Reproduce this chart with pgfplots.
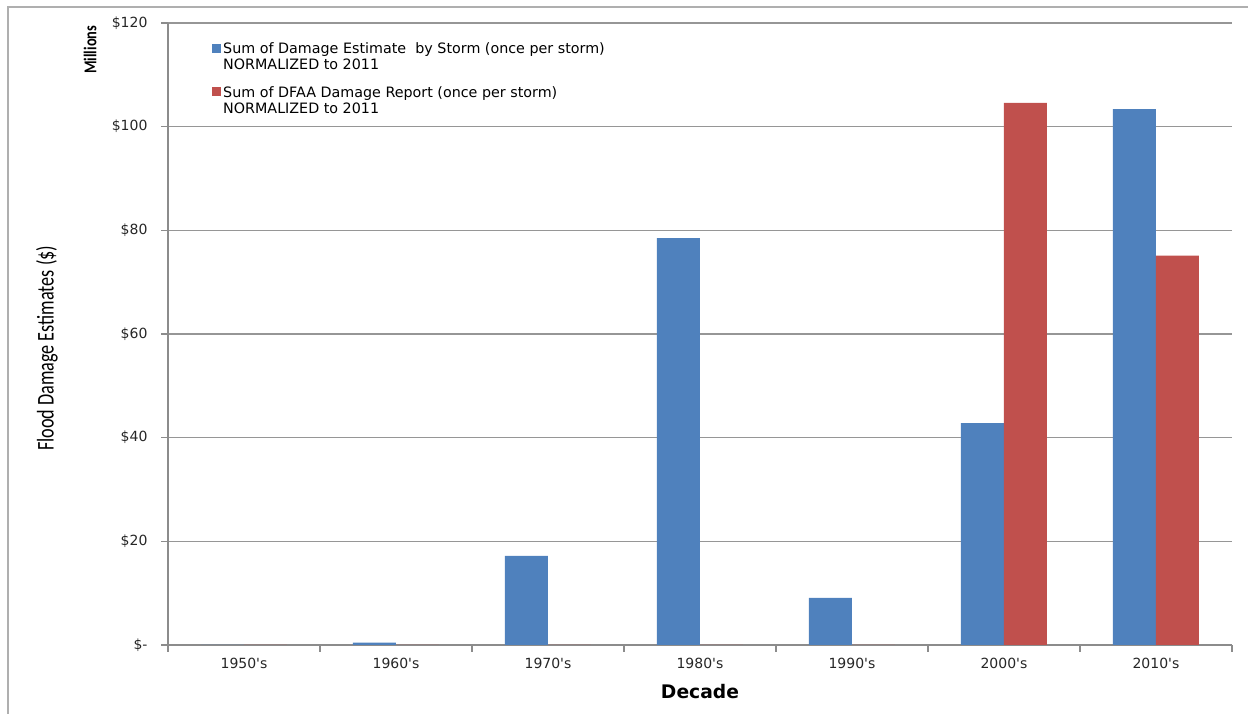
\documentclass[border=0pt]{standalone}
\usepackage{graphicx}
\usepackage{pgfplots}
\pgfplotsset{compat=1.18}
\usepackage{fontspec}
\setmainfont{DejaVu Sans}
\newfontfamily\calibri{Carlito}

\definecolor{stormblue}{RGB}{79,129,189}
\definecolor{dfaared}{RGB}{192,80,77}
\definecolor{axisgray}{RGB}{140,140,140}
\definecolor{gridgray}{RGB}{150,150,150}
\definecolor{framegray}{RGB}{175,175,175}

\newcommand{\q}{\textquotesingle}

\begin{document}
\begin{tikzpicture}
\useasboundingbox (0pt,0pt) rectangle (1248pt,714pt);
% outer chart frame
\draw[framegray, line width=2pt] (8pt,0pt) -- (8pt,707pt) -- (1248pt,707pt);
\begin{axis}[
  at={(168pt,69pt)}, anchor=south west,
  scale only axis, width=1064pt, height=622pt,
  ybar=0pt, bar width=43pt,
  xmin=-0.5, xmax=6.5, ymin=0, ymax=120,
  axis lines*=left,
  axis line style={axisgray, line width=1.6pt},
  xtick={0,...,6},
  xticklabels={1950\q s,1960\q s,1970\q s,1980\q s,1990\q s,2000\q s,2010\q s},
  minor xtick={-0.5,0.5,...,6.5},
  ytick={0,20,...,120},
  yticklabels={\$-,\$20,\$40,\$60,\$80,\$100,\$120},
  xtick pos=left, ytick pos=left,
  tick align=outside,
  major tick length=7pt, minor tick length=7pt,
  major x tick style={draw=none},
  minor x tick style={axisgray, line width=1.4pt},
  major y tick style={axisgray, line width=1.4pt},
  ymajorgrids,
  grid style={gridgray, line width=1.2pt},
  tick label style={font=\fontsize{14}{16}\selectfont, text=black!85},
  yticklabel style={xshift=-10pt},
  xticklabel style={yshift=-3pt},
  xlabel={Decade},
  xlabel style={font=\fontsize{18.7}{21}\selectfont\bfseries, at={(axis description cs:0.5,-0.075)}, anchor=center},
  ylabel={\scalebox{0.757}[1]{Flood Damage Estimates (\$)}},
  ylabel style={font=\calibri\fontsize{24}{26}\selectfont, at={(axis description cs:-0.1137,0.477)}, anchor=center},
  legend style={at={(axis description cs:0.0414,0.972)}, anchor=north west,
    draw=none, fill=none, font=\fontsize{14.3}{16.5}\selectfont,
    cells={align=left, anchor=west}, row sep=11pt, inner sep=0pt},
  legend image code/.code={\fill[#1] (0pt,4.5pt) rectangle (9pt,13.5pt);},
  clip=false,
]
\addplot[fill=stormblue, draw=none] coordinates {
  (0,0) (1,0.45) (2,17.2) (3,78.5) (4,9.1) (5,42.8) (6,103.4)};
\addlegendentry{Sum of Damage Estimate\ \ by Storm (once per storm)\\NORMALIZED to 2011}
\addplot[fill=dfaared, draw=none] coordinates {
  (0,0) (1,0) (2,0) (3,0) (4,0) (5,104.6) (6,75.1)};
\addlegendentry{Sum of DFAA Damage Report (once per storm)\\NORMALIZED to 2011}
\node[rotate=90, font=\calibri\fontsize{18}{20}\selectfont\bfseries]
  at (axis description cs:-0.0733,0.957) {\scalebox{0.8}[1]{Millions}};
\end{axis}
\end{tikzpicture}
\end{document}
